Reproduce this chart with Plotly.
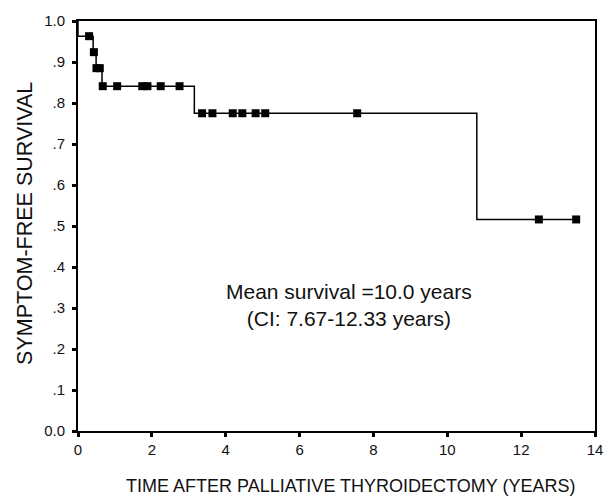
import plotly.graph_objects as go

# Kaplan-Meier step curve (event times and survival after each event)
step_times = [0.0, 0.0, 0.41, 0.49, 0.65, 3.15, 10.8, 13.49]
step_surv = [1.0, 0.963, 0.924, 0.885, 0.841, 0.775, 0.516, 0.516]

# Censored observations (markers)
censor_times = [0.30, 0.43, 0.50, 0.59, 0.67, 1.06, 1.74, 1.88, 2.24, 2.75,
                3.36, 3.64, 4.19, 4.45, 4.81, 5.07, 7.56, 12.48, 13.49]
censor_surv = [0.963, 0.924, 0.885, 0.885, 0.841, 0.841, 0.841, 0.841, 0.841, 0.841,
               0.775, 0.775, 0.775, 0.775, 0.775, 0.775, 0.775, 0.516, 0.516]

x_ticks = [0, 2, 4, 6, 8, 10, 12, 14]
y_ticks = [0.0, 0.1, 0.2, 0.3, 0.4, 0.5, 0.6, 0.7, 0.8, 0.9, 1.0]
y_ticktext = ["0.0", ".1", ".2", ".3", ".4", ".5", ".6", ".7", ".8", ".9", "1.0"]

FONT = "Arial, Liberation Sans, sans-serif"

fig = go.Figure()
fig.add_trace(go.Scatter(
    x=step_times, y=step_surv, mode="lines", line_shape="hv",
    line=dict(color="black", width=1.5), cliponaxis=False, showlegend=False,
    hoverinfo="skip"))
fig.add_trace(go.Scatter(
    x=censor_times, y=censor_surv, mode="markers",
    marker=dict(symbol="square", size=8, color="black"),
    cliponaxis=False, showlegend=False))

fig.update_layout(
    width=611, height=498,
    margin=dict(l=78, r=8, t=21, b=67),
    paper_bgcolor="white", plot_bgcolor="white",
    font=dict(family=FONT, color="#111", size=15),
    xaxis=dict(range=[0, 14], tickvals=x_ticks, ticks="outside", ticklen=4,
               tickwidth=3, tickcolor="black", showline=True, linecolor="black",
               linewidth=1.8, mirror=True, showgrid=False, zeroline=False,
               tickfont=dict(size=15, family=FONT)),
    yaxis=dict(range=[0, 1.0], tickvals=y_ticks, ticktext=y_ticktext,
               ticks="outside", ticklen=4, tickwidth=3, tickcolor="black",
               showline=True, linecolor="black", linewidth=1.8, mirror=True,
               showgrid=False, zeroline=False, tickfont=dict(size=15, family=FONT),
               ticklabelstandoff=4),
    annotations=[
        dict(text="Mean survival =10.0 years<br>(CI: 7.67-12.33 years)",
             x=7.35, y=0.3065, xref="x", yref="y", showarrow=False,
             font=dict(size=21, family=FONT, color="#111"), align="center"),
        dict(text="SYMPTOM-FREE SURVIVAL", textangle=-90,
             x=-0.103, y=0.507, xref="paper", yref="paper", showarrow=False,
             xanchor="center", yanchor="middle",
             font=dict(size=21.5, family=FONT, color="#111")),
        dict(text="TIME AFTER PALLIATIVE THYROIDECTOMY (YEARS)",
             x=0.528, y=-0.133, xref="paper", yref="paper", showarrow=False,
             xanchor="center", yanchor="middle",
             font=dict(size=18, family=FONT, color="#111")),
    ],
)

fig.write_html("out.html", config={"displayModeBar": False},
               post_script="document.body.style.margin='0';document.body.style.overflow='hidden';")
